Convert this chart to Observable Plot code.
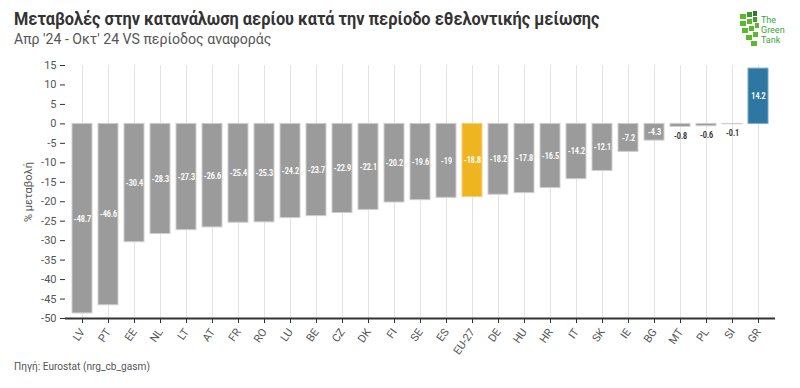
<!DOCTYPE html>
<html>
<head>
<meta charset="utf-8">
<script src="https://cdn.jsdelivr.net/npm/d3@7"></script>
<script src="https://cdn.jsdelivr.net/npm/@observablehq/plot@0.6"></script>
<style>
  html, body { margin: 0; padding: 0; background: #fff; width: 800px; height: 388px; overflow: hidden; }
  body { position: relative; font-family: Roboto, "Open Sans", sans-serif; }
  #title { position: absolute; left: 14px; top: 7px; font-size: 19px; font-weight: bold; color: #333; white-space: nowrap; transform: scaleX(0.86); transform-origin: left top; }
  #subtitle { position: absolute; left: 14px; top: 30px; font-size: 15px; color: #555; white-space: nowrap; transform: scaleX(0.94); transform-origin: left top; }
  #chart { position: absolute; left: 0; top: 50px; }
  #chart svg { overflow: visible; }
  #caption { position: absolute; left: 14px; top: 360px; font-size: 11px; color: #555; white-space: nowrap; transform: scaleX(0.92); transform-origin: left top; }
  #logo { position: absolute; left: 738px; top: 8px; }
</style>
</head>
<body>
<div id="title">Μεταβολές στην κατανάλωση αερίου κατά την περίοδο εθελοντικής μείωσης</div>
<div id="subtitle">Απρ '24 - Οκτ' 24 VS περίοδος αναφοράς</div>
<div id="logo">
  <svg width="55" height="42">
    <g fill="#5cb82e">
      <rect x="2" y="6" width="6" height="5"/><rect x="9" y="4" width="5" height="5" fill="#3f9a2c"/><rect x="15" y="3" width="4" height="5" fill="#2c7a2c"/>
      <rect x="2" y="13" width="6" height="5"/><rect x="9" y="11" width="5" height="5"/><rect x="15" y="9" width="4" height="5" fill="#3f9a2c"/>
      <rect x="4" y="20" width="6" height="5"/><rect x="11" y="18" width="5" height="5"/><rect x="17" y="15" width="4" height="5"/>
      <rect x="8" y="27" width="6" height="5"/><rect x="15" y="24" width="5" height="5"/>
      <rect x="13" y="33" width="6" height="5"/>
    </g>
    <g fill="#3aa53a" font-size="9" font-family="Roboto, sans-serif">
      <text x="23" y="15">The</text>
      <text x="23" y="25">Green</text>
      <text x="23" y="35">Tank</text>
    </g>
  </svg>
</div>
<div id="chart"></div>
<div id="caption">Πηγή: Eurostat (nrg_cb_gasm)</div>
<script>
const countries = ["LV","PT","EE","NL","LT","AT","FR","RO","LU","BE","CZ","DK","FI","SE","ES","EU-27","DE","HU","HR","IT","SK","IE","BG","MT","PL","SI","GR"];
const values = [-48.7,-46.6,-30.4,-28.3,-27.3,-26.6,-25.4,-25.3,-24.2,-23.7,-22.9,-22.1,-20.2,-19.6,-19,-18.8,-18.2,-17.8,-16.5,-14.2,-12.1,-7.2,-4.3,-0.8,-0.6,-0.1,14.2];
const yTicks = [15,10,5,0,-5,-10,-15,-20,-25,-30,-35,-40,-45,-50];
const highlight = {"EU-27": "#efb521", "GR": "#2e77a2"};
const outline = {"EU-27": "#f5d27a", "GR": "#7aa8c4"};
const baseColor = "#9b9b9b";

const data = countries.map((c, i) => ({country: c, value: values[i]}));
const inside = data.filter(d => Math.abs(d.value) >= 2);
const outside = data.filter(d => Math.abs(d.value) < 2);

const fmt = v => String(v);

const plot = Plot.plot({
  width: 800,
  height: 315,
  marginTop: 15,
  marginLeft: 65,
  marginRight: 25,
  marginBottom: 47,
  style: {fontFamily: "Roboto, sans-serif", fontSize: "11px", color: "#555", background: "#fff"},
  x: {domain: countries, padding: 0.22, label: null},
  y: {domain: [-50, 15], label: null},
  marks: [
    Plot.gridX(countries, {stroke: "#e3e3e3", strokeOpacity: 1, strokeWidth: 1, y1: 15, y2: -50}),
    Plot.barY(data, {x: "country", y: "value", fill: d => highlight[d.country] || baseColor, stroke: d => outline[d.country] || "#cfcfcf", strokeWidth: 1}),
    Plot.text(inside, {x: "country", y: d => d.value / 2, text: d => fmt(d.value), fill: "#fff", fontWeight: "bold", fontSize: 9, className: "vlabel"}),
    Plot.text(outside, {x: "country", y: "value", dy: 9, text: d => fmt(d.value), fill: "#333", fontWeight: "bold", fontSize: 9, className: "vlabel"}),
    Plot.axisY({ticks: yTicks, tickFormat: fmt, tickSize: 5, stroke: "#333", fill: "#555", fontSize: 11, label: "% μεταβολή", labelAnchor: "center", labelArrow: "none", labelOffset: 41}),
    Plot.axisX({tickRotate: -55, tickSize: 5, stroke: "#333", fill: "#555", fontSize: 11, label: null}),
    Plot.ruleY([-50], {stroke: "#333", strokeWidth: 2}),
    Plot.ruleX([0], {x: () => null, stroke: "#333"})
  ]
});
// condense the value labels horizontally, keeping their positions
d3.select(plot).selectAll(".vlabel text").each(function() {
  const t = this.getAttribute("transform") || "";
  this.setAttribute("transform", t + " scale(0.8,1)");
});
document.getElementById("chart").appendChild(plot);
</script>
</body>
</html>
